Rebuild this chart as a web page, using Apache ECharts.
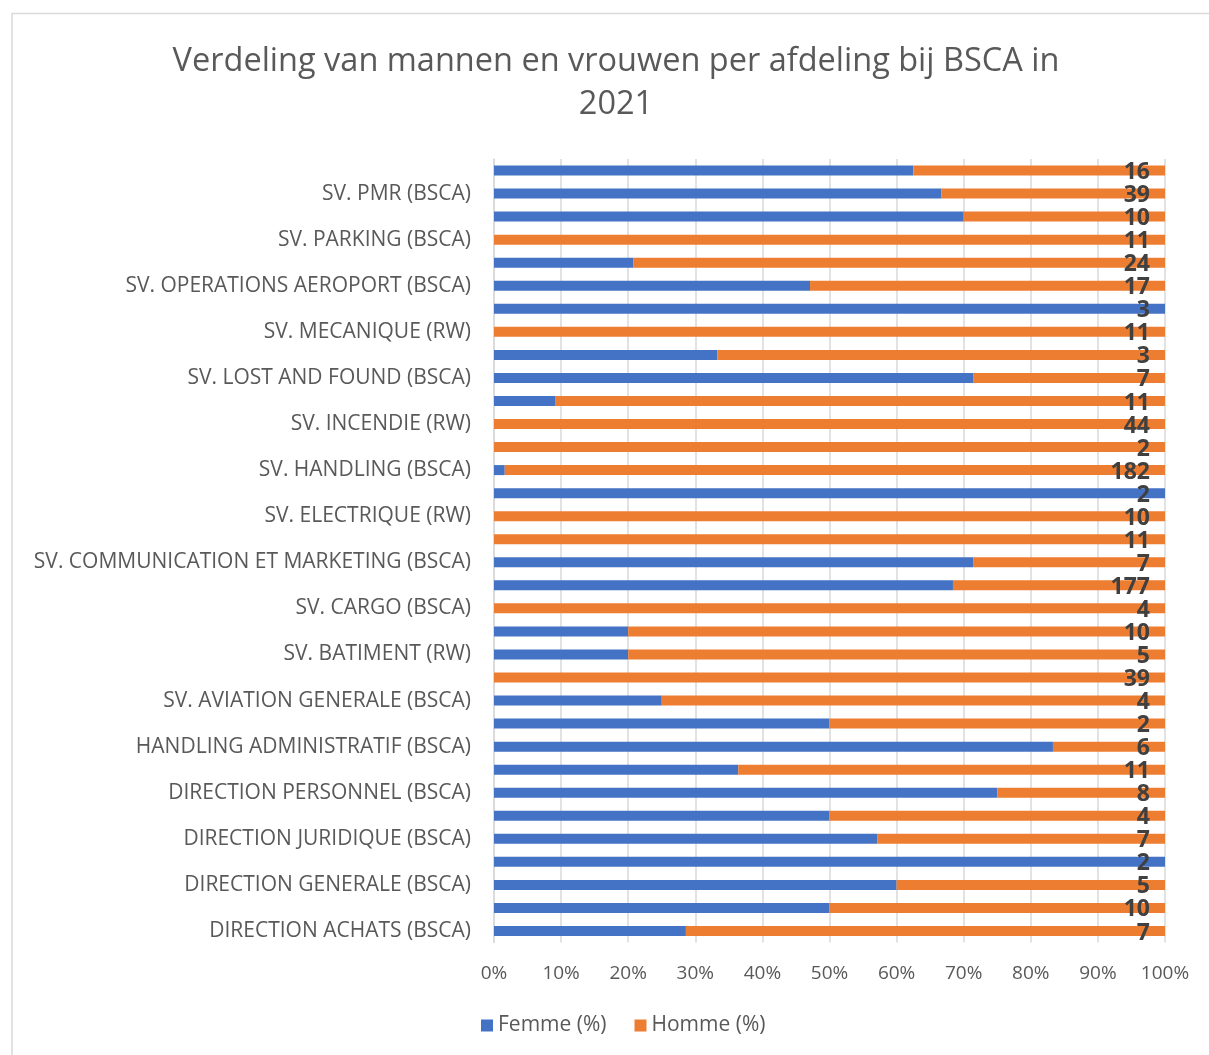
<!DOCTYPE html>
<html>
<head>
<meta charset="utf-8">
<script src="https://cdn.jsdelivr.net/npm/echarts@6/dist/echarts.min.js"></script>
<style>
html,body{margin:0;padding:0;background:#fff;}
#chart{width:1209px;height:1055px;}
</style>
</head>
<body>
<div id="chart"></div>
<script>
// Categories, bottom to top (odd entries are not labelled in the reference)
const categories = [
  "DIRECTION ACHATS (BSCA)",
  "DIRECTION FINANCES (BSCA)",
  "DIRECTION GENERALE (BSCA)",
  "DIRECTION IT (BSCA)",
  "DIRECTION JURIDIQUE (BSCA)",
  "DIRECTION MARKETING (BSCA)",
  "DIRECTION PERSONNEL (BSCA)",
  "DIRECTION TECHNIQUE (BSCA)",
  "HANDLING ADMINISTRATIF (BSCA)",
  "SV. ACCUEIL (BSCA)",
  "SV. AVIATION GENERALE (BSCA)",
  "SV. BAGAGES (BSCA)",
  "SV. BATIMENT (RW)",
  "SV. CANTINE (BSCA)",
  "SV. CARGO (BSCA)",
  "SV. CHECK-IN (BSCA)",
  "SV. COMMUNICATION ET MARKETING (BSCA)",
  "SV. DEGIVRAGE (RW)",
  "SV. ELECTRIQUE (RW)",
  "SV. ENTRETIEN (BSCA)",
  "SV. HANDLING (BSCA)",
  "SV. HYGIENE (BSCA)",
  "SV. INCENDIE (RW)",
  "SV. INFORMATIQUE (BSCA)",
  "SV. LOST AND FOUND (BSCA)",
  "SV. MAINTENANCE (RW)",
  "SV. MECANIQUE (RW)",
  "SV. NETTOYAGE (BSCA)",
  "SV. OPERATIONS AEROPORT (BSCA)",
  "SV. OPERATIONS SOL (BSCA)",
  "SV. PARKING (BSCA)",
  "SV. PISTE (RW)",
  "SV. PMR (BSCA)",
  "SV. SECURITE (BSCA)"
];
// Femme (%) per category, bottom to top
const femmePct = [28.6, 50, 60, 100, 57.1, 50, 75, 36.4, 83.3, 50,
                  25, 0, 20, 20, 0, 68.4, 71.4, 0, 0, 100,
                  1.6, 0, 0, 9.1, 71.4, 33.3, 0, 100, 47.1, 20.8,
                  0, 70, 66.7, 62.5];
// Homme (%) per category, bottom to top
const hommePct = [71.4, 50, 40, 0, 42.9, 50, 25, 63.6, 16.7, 50,
                  75, 100, 80, 80, 100, 31.6, 28.6, 100, 100, 0,
                  98.4, 100, 100, 90.9, 28.6, 66.7, 100, 0, 52.9, 79.2,
                  100, 30, 33.3, 37.5];
// Total staff per category (data labels), bottom to top
const totals = [7, 10, 5, 2, 7, 4, 8, 11, 6, 2,
                4, 39, 5, 10, 4, 177, 7, 11, 10, 2,
                182, 2, 44, 11, 7, 3, 11, 3, 17, 24,
                11, 10, 39, 16];
const xTicks = ["0%","10%","20%","30%","40%","50%","60%","70%","80%","90%","100%"];

const FONT = "'Open Sans', 'Noto Sans', sans-serif";
const chart = echarts.init(document.getElementById('chart'));
chart.setOption({
  animation: false,
  backgroundColor: '#ffffff',
  title: {
    text: 'Verdeling van mannen en vrouwen per afdeling bij BSCA in\n2021',
    left: 611,
    top: 35,
    textAlign: 'center',
    textStyle: {
      fontFamily: FONT, fontSize: 32.5, fontWeight: 'normal',
      color: '#595959', lineHeight: 43
    }
  },
  graphic: [{
    type: 'rect', silent: true, z: -1,
    shape: {x: 12, y: 13.5, width: 1300, height: 1100},
    style: {fill: 'none', stroke: '#d9d9d9', lineWidth: 1.5}
  }],
  legend: {
    data: ['Femme (%)', 'Homme (%)'],
    bottom: 14,
    left: 476,
    itemWidth: 12, itemHeight: 12, itemGap: 28,
    icon: 'rect',
    textStyle: {fontFamily: FONT, fontSize: 21, color: '#595959'}
  },
  grid: {left: 494, right: 44, top: 159, bottom: 112.5, containLabel: false},
  xAxis: {
    type: 'value', min: 0, max: 100, interval: 10,
    axisLine: {show: false},
    axisTick: {show: false},
    splitLine: {show: true, lineStyle: {color: '#d9d9d9', width: 1.5}},
    axisLabel: {
      margin: 22, fontFamily: FONT, fontSize: 19, color: '#595959',
      formatter: function (v) { return xTicks[Math.round(v / 10)]; }
    }
  },
  yAxis: {
    type: 'category', data: categories,
    axisLine: {show: true, lineStyle: {color: '#d9d9d9', width: 1.5}},
    axisTick: {show: false},
    axisLabel: {
      interval: 1, margin: 23, fontFamily: FONT, fontSize: 21, color: '#595959'
    }
  },
  series: [{
    name: 'Femme (%)', type: 'bar', stack: 'total', data: femmePct,
    barWidth: 10,
    itemStyle: {color: '#4472C4'}
  }, {
    name: 'Homme (%)', type: 'bar', stack: 'total', data: hommePct,
    barWidth: 10,
    itemStyle: {color: '#ED7D31'},
    label: {
      show: true, position: 'insideRight', distance: 15, offset: [0, 2],
      fontFamily: FONT, fontSize: 23, fontWeight: 'bold', color: '#404040',
      formatter: function (p) { return String(totals[p.dataIndex]); }
    }
  }]
});
</script>
</body>
</html>
